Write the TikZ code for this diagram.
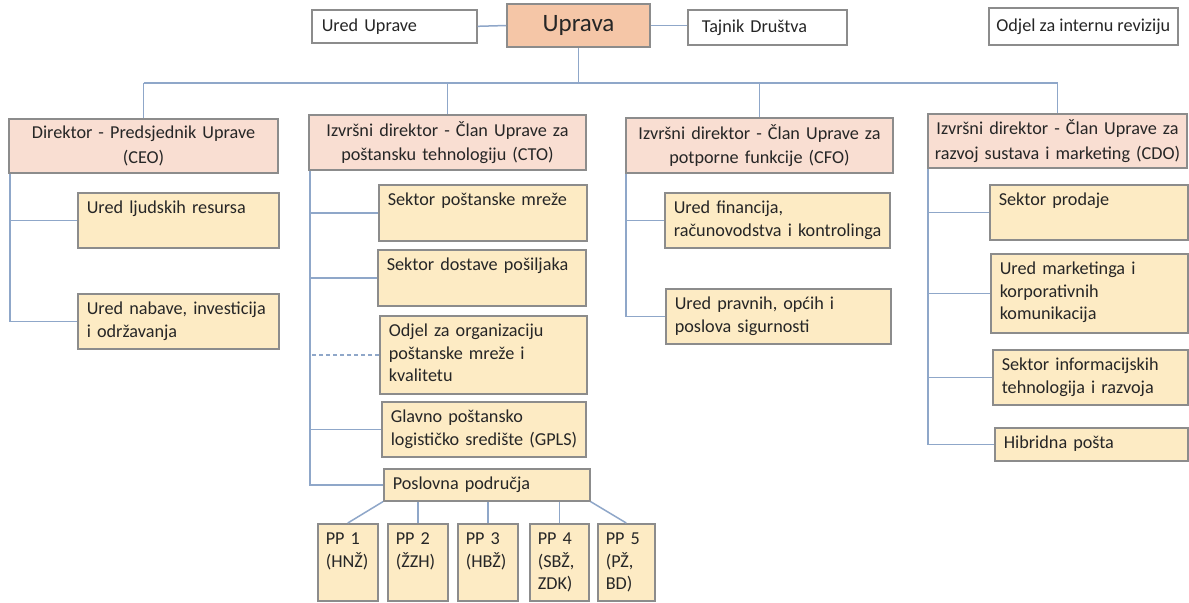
\documentclass[tikz,border=0pt]{standalone}
\usepackage{fontspec}
\setmainfont{Carlito}
\usepackage{tikz}
\definecolor{ink}{HTML}{262626}
\definecolor{boxgray}{HTML}{8C8C8C}
\definecolor{linkblue}{HTML}{8FA7C9}
\definecolor{boardfill}{HTML}{F5C6A7}
\definecolor{headfill}{HTML}{F9DED2}
\definecolor{unitfill}{HTML}{FDEBC4}
\newlength{\pix}
\setlength{\pix}{0.5pt}

\begin{document}
\begin{tikzpicture}[x=\pix, y=-\pix, every node/.style={font=\fontsize{9.1}{11.2}\selectfont, text=ink}]
\tikzset{
  link/.style={draw=linkblue, line width=0.75pt},
  topbox/.style={draw=boxgray, line width=0.8pt, fill=white, anchor=north west, inner ysep=0pt},
  headbox/.style={draw=boxgray, line width=0.8pt, fill=headfill, inner sep=2\pix, execute at begin node=\centering},
  unitbox/.style={draw=boxgray, line width=0.8pt, fill=unitfill, anchor=north west, inner xsep=9\pix, inner ysep=5\pix, text height=16\pix}
}
\path[use as bounding box, fill=white] (0,0) rectangle (1189,602);

\node[topbox, inner xsep=10\pix, text width=145\pix, minimum height=33\pix] (ured) at (311,9) {Ured Uprave};
\node[draw=boxgray, line width=0.8pt, fill=boardfill, minimum width=143\pix, minimum height=43\pix, font=\fontsize{12.5}{15}\selectfont] (uprava) at (578.5,25.5) {Uprava};
\node[topbox, inner xsep=14\pix, text width=131\pix, minimum height=35\pix] (tajnik) at (687,9) {Tajnik Društva};
\node[topbox, inner xsep=0pt, minimum width=189\pix, minimum height=37\pix] (revizija) at (988,7) {Odjel za internu reviziju};

\node[headbox, text width=265\pix, minimum height=54\pix] (ceo) at (143.5,146) {Direktor - Predsjednik Uprave\\[2\pix](CEO)};
\node[headbox, text width=273\pix, minimum height=55\pix] (cto) at (447.5,142.5) {Izvršni direktor - Član Uprave za\\[2\pix]poštansku tehnologiju (CTO)};
\node[headbox, text width=263\pix, minimum height=55\pix] (cfo) at (759.5,145.5) {Izvršni direktor - Član Uprave za\\[2\pix]potporne funkcije (CFO)};
\node[headbox, text width=255\pix, minimum height=54\pix] (cdo) at (1057.5,141) {Izvršni direktor - Član Uprave za\\[2\pix]razvoj sustava i marketing (CDO)};

\node[unitbox, text width=183\pix, text depth=29\pix] (ljudi) at (77,192) {Ured ljudskih resursa};
\node[unitbox, text width=183\pix, text depth=29\pix] (nabava) at (77,293) {Ured nabave, investicija\\i održavanja};

\node[unitbox, text width=190\pix, text depth=30\pix] (mreza) at (378,184) {Sektor poštanske mreže};
\node[unitbox, text width=190\pix, text depth=30\pix] (dostava) at (377,249) {Sektor dostave pošiljaka};
\node[unitbox, text width=189\pix, text depth=52\pix] (kvaliteta) at (379,315) {Odjel za organizaciju\\poštanske mreže i\\kvalitetu};
\node[unitbox, text width=186\pix, text depth=29\pix] (gpls) at (381,401) {Glavno poštansko\\\mbox{logističko središte (GPLS)}};
\node[unitbox, text width=188\pix, text depth=6\pix] (podrucja) at (383,468) {Poslovna područja};

\node[unitbox, text width=207\pix, text depth=29\pix] (financije) at (664,192) {Ured financija,\\\mbox{računovodstva i kontrolinga}};
\node[unitbox, text width=207\pix, text depth=29\pix] (pravni) at (665,288) {Ured pravnih, općih i\\poslova sigurnosti};

\node[unitbox, text width=180\pix, text depth=29\pix] (prodaja) at (989,184) {Sektor prodaje};
\node[unitbox, text width=179\pix, text depth=53\pix] (marketing) at (990,253) {Ured marketinga i\\korporativnih\\komunikacija};
\node[unitbox, text width=177\pix, text depth=29\pix] (informatika) at (992,349) {Sektor informacijskih\\tehnologija i razvoja};
\node[unitbox, text width=175\pix, text depth=7\pix] (hibrid) at (994,427) {Hibridna pošta};

\node[unitbox, inner xsep=8\pix, text width=44\pix, text depth=51\pix] (pp1) at (317,523) {PP 1\\(HNŽ)};
\node[unitbox, inner xsep=8\pix, text width=44\pix, text depth=51\pix] (pp2) at (387,523) {PP 2\\(ŽZH)};
\node[unitbox, inner xsep=8\pix, text width=44\pix, text depth=51\pix] (pp3) at (457,523) {PP 3\\(HBŽ)};
\node[unitbox, inner xsep=8\pix, text width=43\pix, text depth=51\pix] (pp4) at (529,523) {PP 4\\(SBŽ,\\ZDK)};
\node[unitbox, inner xsep=8\pix, text width=41\pix, text depth=51\pix] (pp5) at (597,523) {PP 5\\(PŽ,\\BD)};

\draw[link] (ured.east) -- (uprava.west);
\draw[link] (uprava.east) -- (uprava.east -| tajnik.west);
\coordinate (bus) at (578.5,83);
\draw[link] (uprava.south) -- (bus);
\draw[link] (ceo.north |- bus) -- (cdo.north |- bus);
\foreach \n in {ceo,cto,cfo,cdo} \draw[link] (\n.north) -- (\n.north |- bus);

\coordinate (ceotrunk) at ([xshift=2\pix]ceo.south west);
\foreach \n in {ljudi,nabava} \draw[link] (ceotrunk) |- (\n.west);
\coordinate (ctotrunk) at ([xshift=2\pix]cto.south west);
\foreach \n in {mreza,dostava,gpls,podrucja} \draw[link] (ctotrunk) |- (\n.west);
\draw[link, dash pattern=on 2pt off 1.5pt] (kvaliteta.west) -- (kvaliteta.west -| ctotrunk);
\coordinate (cfotrunk) at ([xshift=1\pix]cfo.south west);
\foreach \n in {financije,pravni} \draw[link] (cfotrunk) |- (\n.west);
\coordinate (cdotrunk) at ([xshift=1\pix]cdo.south west);
\foreach \n in {prodaja,marketing,informatika,hibrid} \draw[link] (cdotrunk) |- (\n.west);

\draw[link] (podrucja.south west) -- (pp1.north);
\foreach \n in {pp2,pp3,pp4} \draw[link] (\n.north) -- (\n.north |- podrucja.south);
\draw[link] (podrucja.south east) -- (pp5.north);
\end{tikzpicture}
\end{document}
